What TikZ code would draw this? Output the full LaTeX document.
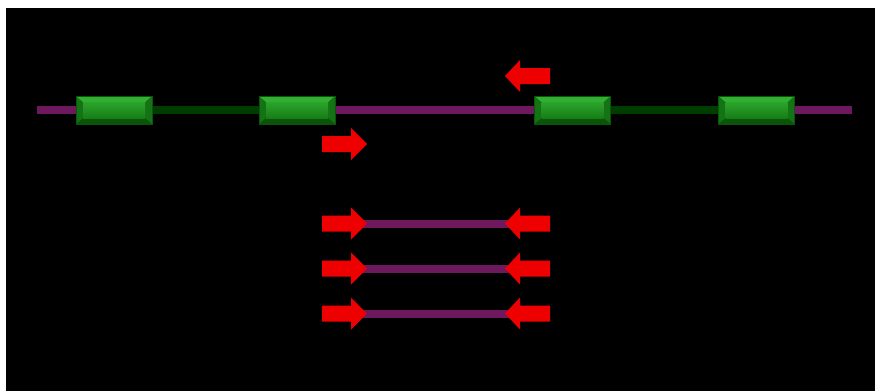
\documentclass[tikz,border=0pt]{standalone}
\begin{document}
\begin{tikzpicture}[x=1pt,y=-1pt]
\definecolor{intronpurple}{RGB}{110,24,94}
\definecolor{introngreen}{RGB}{0,62,0}
\definecolor{exonface}{RGB}{26,140,26}
\definecolor{exonlight}{RGB}{50,175,50}
\definecolor{exondark}{RGB}{10,85,10}
\definecolor{exonside}{RGB}{20,115,20}
\definecolor{primerred}{RGB}{238,0,0}
\tikzset{
  purpleline/.style={draw=intronpurple,line width=8pt},
  greenline/.style={draw=introngreen,line width=8pt},
  exon/.style={rectangle,minimum width=76pt,minimum height=28pt,inner sep=0pt,
    fill=exonside,draw=exondark,line width=0.8pt,
    path picture={
      \fill[exonlight] (path picture bounding box.north west) -- (path picture bounding box.north east)
        -- ([shift={(-7pt,-6pt)}]path picture bounding box.north east) -- ([shift={(7pt,-6pt)}]path picture bounding box.north west) -- cycle;
      \fill[exondark] (path picture bounding box.south west) -- (path picture bounding box.south east)
        -- ([shift={(-7pt,6pt)}]path picture bounding box.south east) -- ([shift={(7pt,6pt)}]path picture bounding box.south west) -- cycle;
      \shade[top color=exonlight!70!exonface,bottom color=exonface!90!black]
        ([shift={(7pt,-6pt)}]path picture bounding box.north west) rectangle ([shift={(-7pt,6pt)}]path picture bounding box.south east);
    }},
  fwd/.pic={\fill[primerred] (0,-8) -- (29,-8) -- (29,-16) -- (45,0) -- (29,16) -- (29,8) -- (0,8) -- cycle;},
  rev/.pic={\fill[primerred] (0,0) -- (15,-16) -- (15,-8) -- (45,-8) -- (45,8) -- (15,8) -- (15,16) -- cycle;}
}
% background
\fill[white] (0,0) rectangle (875,391);
\fill[black] (6,8) rectangle (875,391);
\useasboundingbox (0,0) rectangle (875,391);

% gene model
\coordinate (L) at (37,110);
\coordinate (R) at (852,110);
\node[exon] (e1) at (114,110) {};
\node[exon] (e2) at (297,110) {};
\node[exon] (e3) at (572.5,110) {};
\node[exon] (e4) at (756.5,110) {};
\draw[purpleline] (L) -- (e1.west);
\draw[greenline] (e1.east) -- (e2.west);
\draw[purpleline] (e2.east) -- (e3.west);
\draw[greenline] (e3.east) -- (e4.west);
\draw[purpleline] (e4.east) -- (R);
% redraw exons on top of lines
\node[exon] at (e1) {};
\node[exon] at (e2) {};
\node[exon] at (e3) {};
\node[exon] at (e4) {};

% primers on the gene
\pic at (505,76) {rev};
\pic at (322,144) {fwd};

% products
\foreach \yy/\n in {223.5/1,268.5/2,313.5/3}{
  \coordinate (p\n) at (360,\yy);
  \coordinate (q\n) at (512,\yy);
  \draw[purpleline] (p\n) -- (q\n);
  \pic at (322,\yy) {fwd};
  \pic at (505,\yy) {rev};
}
\end{tikzpicture}
\end{document}
